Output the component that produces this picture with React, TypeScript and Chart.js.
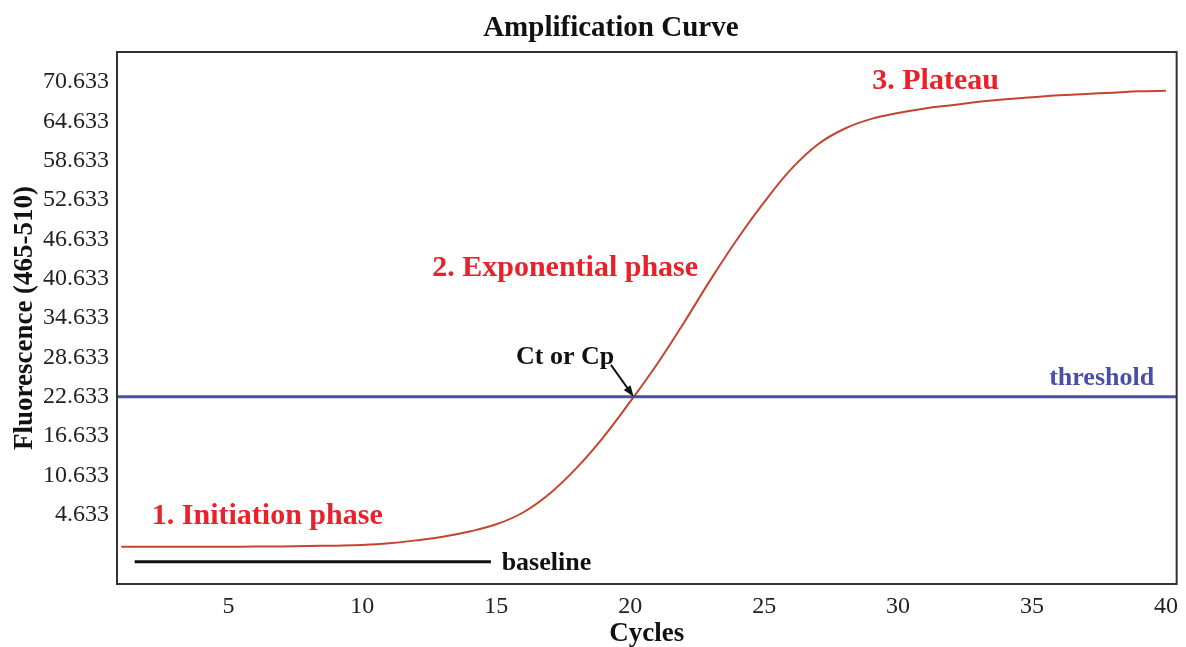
import React, { useEffect, useRef } from "react";
import { Chart, registerables } from "chart.js";

Chart.register(...registerables);

const CYCLES = [1, 2, 3, 4, 5, 6, 7, 8, 9, 10, 11, 12, 13, 14, 15, 16, 17, 18, 19, 20, 21, 22, 23, 24, 25, 26, 27, 28, 29, 30, 31, 32, 33, 34, 35, 36, 37, 38, 39, 40];
const FLUORESCENCE = [-0.22, -0.22, -0.22, -0.22, -0.21, -0.2, -0.18, -0.12, -0.05, 0.05, 0.3, 0.75, 1.3, 2.1, 3.2, 5.0, 7.9, 11.8, 16.5, 21.9, 27.6, 33.9, 40.5, 46.7, 52.3, 57.3, 61.1, 63.5, 65.0, 65.9, 66.6, 67.1, 67.6, 68.0, 68.3, 68.6, 68.8, 69.0, 69.2, 69.3];
const THRESHOLD = 22.633;
const Y_TICKS = [4.633, 10.633, 16.633, 22.633, 28.633, 34.633, 40.633, 46.633, 52.633, 58.633, 64.633, 70.633];
const X_TICKS = [5, 10, 15, 20, 25, 30, 35, 40];
const X_MIN = 0.84;
const X_MAX = 40.4;
const Y_MIN = -5.9;
const Y_MAX = 75.2;
const BASELINE_START = 1.5;
const BASELINE_END = 14.8;
const BASELINE_LEVEL = -2.5;

const TITLE = "Amplification Curve";
const X_TITLE = "Cycles";
const Y_TITLE = "Fluorescence (465-510)";

const LABEL_TEXTS = ["1. Initiation phase", "2. Exponential phase", "3. Plateau", "Ct or Cp", "threshold", "baseline"];
const LABEL_X = [6.45, 17.57, 31.4, 17.57, 37.6, 15.2];
const LABEL_Y = [4.5, 42.3, 70.8, 28.6, 25.5, -2.7];
const ARROW_FROM = [19.28, 27.5];

const SERIF = "'Liberation Serif', 'Times New Roman', serif";
const RED = "#e8212b";
const CURVE = "#c4452f";
const BLUE = "#4a4fa6";

function thresholdCrossing(): number {
  for (let i = 1; i < FLUORESCENCE.length; i++) {
    const a = FLUORESCENCE[i - 1];
    const b = FLUORESCENCE[i];
    if (a < THRESHOLD && b >= THRESHOLD) {
      return CYCLES[i - 1] + ((THRESHOLD - a) / (b - a)) * (CYCLES[i] - CYCLES[i - 1]);
    }
  }
  return CYCLES[0];
}

const annotationPlugin = {
  id: "annotations",
  afterDraw(chart: any) {
    const { ctx, chartArea, scales } = chart;
    const xs = scales.x;
    const ys = scales.y;
    ctx.save();
    ctx.strokeStyle = "#333";
    ctx.lineWidth = 2;
    ctx.strokeRect(chartArea.left, chartArea.top, chartArea.right - chartArea.left, chartArea.bottom - chartArea.top);

    ctx.fillStyle = "#111";
    ctx.font = `bold 29px ${SERIF}`;
    ctx.textAlign = "center";
    ctx.textBaseline = "middle";
    ctx.fillText(TITLE, (chartArea.left + chartArea.right) / 2 - 36, 29);

    const styles = [
      { color: RED, size: 30, align: "center" },
      { color: RED, size: 30, align: "center" },
      { color: RED, size: 30, align: "center" },
      { color: "#111", size: 26, align: "center" },
      { color: BLUE, size: 26, align: "center" },
      { color: "#111", size: 26, align: "left" },
    ];
    LABEL_TEXTS.forEach((t, i) => {
      const s = styles[i];
      ctx.fillStyle = s.color;
      ctx.font = `bold ${s.size}px ${SERIF}`;
      ctx.textAlign = s.align;
      ctx.textBaseline = "middle";
      ctx.fillText(t, xs.getPixelForValue(LABEL_X[i]), ys.getPixelForValue(LABEL_Y[i]));
    });

    const ct = thresholdCrossing();
    const x1 = xs.getPixelForValue(ARROW_FROM[0]);
    const y1 = ys.getPixelForValue(ARROW_FROM[1]);
    const x2 = xs.getPixelForValue(ct);
    const y2 = ys.getPixelForValue(THRESHOLD);
    ctx.strokeStyle = "#111";
    ctx.fillStyle = "#111";
    ctx.lineWidth = 2;
    const ang = Math.atan2(y2 - y1, x2 - x1);
    const hl = 12;
    ctx.beginPath();
    ctx.moveTo(x1, y1);
    ctx.lineTo(x2 - Math.cos(ang) * hl * 0.8, y2 - Math.sin(ang) * hl * 0.8);
    ctx.stroke();
    ctx.beginPath();
    ctx.moveTo(x2, y2);
    ctx.lineTo(x2 - hl * Math.cos(ang - 0.35), y2 - hl * Math.sin(ang - 0.35));
    ctx.lineTo(x2 - hl * Math.cos(ang + 0.35), y2 - hl * Math.sin(ang + 0.35));
    ctx.closePath();
    ctx.fill();
    ctx.restore();
  },
};

export default function App() {
  const ref = useRef<HTMLCanvasElement | null>(null);
  useEffect(() => {
    if (!ref.current) return;
    const chart = new Chart(ref.current, {
      type: "line",
      data: {
        datasets: [
          {
            label: "threshold",
            data: [
              { x: X_MIN, y: THRESHOLD },
              { x: X_MAX, y: THRESHOLD },
            ],
            borderColor: BLUE,
            borderWidth: 3,
            pointRadius: 0,
            tension: 0,
          },
          {
            label: "baseline",
            data: [
              { x: BASELINE_START, y: BASELINE_LEVEL },
              { x: BASELINE_END, y: BASELINE_LEVEL },
            ],
            borderColor: "#111",
            borderWidth: 3,
            pointRadius: 0,
            tension: 0,
          },
          {
            label: "Amplification",
            data: CYCLES.map((c, i) => ({ x: c, y: FLUORESCENCE[i] })),
            borderColor: CURVE,
            borderWidth: 2,
            pointRadius: 0,
            tension: 0.4,
          },
        ],
      },
      options: {
        animation: false,
        responsive: false,
        maintainAspectRatio: false,
        layout: { padding: { top: 52, right: 5, left: 0, bottom: 0 } },
        plugins: { legend: { display: false }, tooltip: { enabled: false }, title: { display: false } },
        scales: {
          x: {
            type: "linear",
            min: X_MIN,
            max: X_MAX,
            border: { display: false },
            grid: { display: false, drawTicks: false },
            afterBuildTicks: (s: any) => {
              s.ticks = X_TICKS.map((v) => ({ value: v }));
            },
            afterFit: (s: any) => {
              s.height = 63;
            },
            ticks: {
              padding: 8,
              color: "#222",
              font: { family: SERIF, size: 24 },
              maxRotation: 0,
              callback: (v: any) => String(v),
            },
            title: {
              display: true,
              text: X_TITLE,
              color: "#111",
              font: { family: SERIF, size: 27, weight: "bold", lineHeight: 1 },
              padding: { top: 0, bottom: -1 },
            },
          },
          y: {
            type: "linear",
            min: Y_MIN,
            max: Y_MAX,
            border: { display: false },
            grid: { display: false, drawTicks: false },
            afterBuildTicks: (s: any) => {
              s.ticks = Y_TICKS.map((v) => ({ value: v }));
            },
            afterFit: (s: any) => {
              s.width = 117;
            },
            ticks: {
              padding: 8,
              color: "#222",
              font: { family: SERIF, size: 24 },
              callback: (v: any) => Number(v).toFixed(3),
            },
            title: {
              display: true,
              text: Y_TITLE,
              color: "#111",
              font: { family: SERIF, size: 27, weight: "bold", lineHeight: 1 },
              padding: { top: 12, bottom: 0 },
            },
          },
        },
      },
      plugins: [annotationPlugin],
    } as any);
    return () => chart.destroy();
  }, []);
  return (
    <div style={{ position: "fixed", left: 0, top: 0, width: 1186, height: 647, background: "#fff" }}>
      <canvas ref={ref} width={1186} height={647} style={{ width: 1186, height: 647 }} />
    </div>
  );
}
